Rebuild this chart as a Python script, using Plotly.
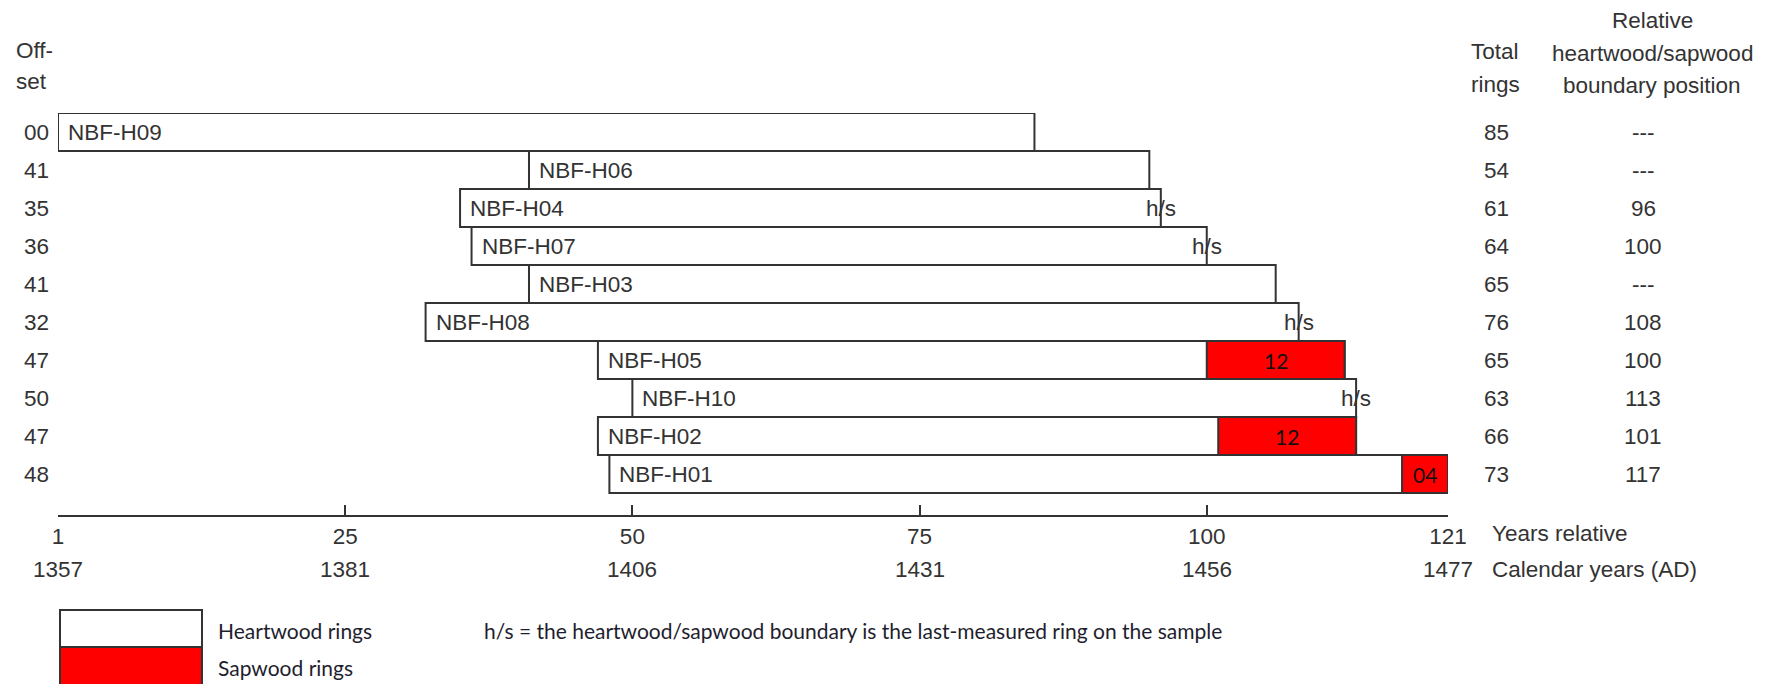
import plotly.graph_objects as go

# ---------------- data ----------------
samples = ["NBF-H09", "NBF-H06", "NBF-H04", "NBF-H07", "NBF-H03",
           "NBF-H08", "NBF-H05", "NBF-H10", "NBF-H02", "NBF-H01"]
offsets = [0, 41, 35, 36, 41, 32, 47, 50, 47, 48]
total_rings = [85, 54, 61, 64, 65, 76, 65, 63, 66, 73]
boundary_pos = [None, None, 96, 100, None, 108, 100, 113, 101, 117]
sapwood_rings = [0, 0, 0, 0, 0, 0, 12, 0, 12, 4]
hs_last_ring = [False, False, True, True, False, True, False, True, False, False]

rel_tick_vals = [0, 25, 50, 75, 100, 121]
rel_tick_text = ["1", "25", "50", "75", "100", "121"]
cal_tick_text = ["1357", "1381", "1406", "1431", "1456", "1477"]

# ---------------- geometry helpers ----------------
W, H = 1787, 684
ML, MR, MT, MB = 58, 339, 113, 169
PW = W - ML - MR
PH = H - MT - MB
ROW = 38.0


def px_x(px):
    return (px - ML) / PW


def px_y(py):
    return (H - MB - py) / PH


rows = list(range(len(samples)))
ends = [o + t for o, t in zip(offsets, total_rings)]

TXT = "#333333"
AR = "Liberation Sans, Arial, sans-serif"
CAL = "Lato, Calibri, sans-serif"
FS = 22.5

fig = go.Figure()

# heartwood (full span, white)
fig.add_trace(go.Bar(
    orientation="h", y=rows, x=total_rings, base=offsets, width=1,
    marker=dict(color="white", line=dict(color="#333333", width=2)),
    cliponaxis=False, hoverinfo="skip", showlegend=False))

# sapwood (red)
sap_rows = [r for r in rows if sapwood_rings[r] > 0]
fig.add_trace(go.Bar(
    orientation="h", y=sap_rows,
    x=[sapwood_rings[r] for r in sap_rows],
    base=[ends[r] - sapwood_rings[r] for r in sap_rows], width=1,
    marker=dict(color="#FF0000", line=dict(color="#333333", width=2)),
    cliponaxis=False, hoverinfo="skip", showlegend=False))

ann = []
for r in rows:
    # sample name inside bar
    ann.append(dict(x=offsets[r], y=r, xref="x", yref="y", text=samples[r],
                    xanchor="left", yanchor="middle", xshift=8, showarrow=False,
                    font=dict(family=AR, size=FS, color=TXT)))
    # offset column
    ann.append(dict(x=px_x(36), y=r, xref="paper", yref="y", text="%02d" % offsets[r],
                    xanchor="center", yanchor="middle", showarrow=False,
                    font=dict(family=AR, size=FS, color=TXT)))
    # total rings
    ann.append(dict(x=px_x(1496), y=r, xref="paper", yref="y", text=str(total_rings[r]),
                    xanchor="center", yanchor="middle", showarrow=False,
                    font=dict(family=AR, size=FS, color=TXT)))
    # boundary position
    bp = "---" if boundary_pos[r] is None else str(boundary_pos[r])
    ann.append(dict(x=px_x(1643), y=r, xref="paper", yref="y", text=bp,
                    xanchor="center", yanchor="middle", showarrow=False,
                    font=dict(family=AR, size=FS, color=TXT)))
    # h/s marker
    if hs_last_ring[r]:
        ann.append(dict(x=ends[r], y=r, xref="x", yref="y", text="h/s",
                        xanchor="center", yanchor="middle", showarrow=False,
                        font=dict(family=AR, size=FS, color=TXT)))
    # sapwood count
    if sapwood_rings[r] > 0:
        ann.append(dict(x=ends[r] - sapwood_rings[r] / 2, y=r, xref="x", yref="y",
                        text="%02d" % sapwood_rings[r], xanchor="center", yanchor="middle",
                        showarrow=False, font=dict(family=CAL, size=21, color="#111111")))

# calendar years row
for v, t in zip(rel_tick_vals, cal_tick_text):
    ann.append(dict(x=v, y=px_y(569), xref="x", yref="paper", text=t,
                    xanchor="center", yanchor="middle", showarrow=False,
                    font=dict(family=AR, size=FS, color=TXT)))

ann.append(dict(x=px_x(1490), y=px_y(533), xref="paper", yref="paper", text="Years relative",
                xanchor="left", yanchor="middle", showarrow=False,
                font=dict(family=AR, size=FS, color=TXT)))
ann.append(dict(x=px_x(1490), y=px_y(569), xref="paper", yref="paper", text="Calendar years (AD)",
                xanchor="left", yanchor="middle", showarrow=False,
                font=dict(family=AR, size=FS, color=TXT)))

# headers
hdrs = [("Off-", 14, 51, "left"), ("set", 14, 82, "left"),
        ("Total", 1495, 52, "center"), ("rings", 1495, 84, "center"),
        ("Relative", 1652, 21, "center"), ("heartwood/sapwood", 1652, 53, "center"),
        ("boundary position", 1652, 85, "center")]
for t, x, y, a in hdrs:
    ann.append(dict(x=px_x(x), y=px_y(y), xref="paper", yref="paper", text=t,
                    xanchor=a, yanchor="middle", showarrow=False,
                    font=dict(family=AR, size=FS, color=TXT)))

# legend texts
leg = [("Heartwood rings", 216, 630), ("Sapwood rings", 216, 667),
       ("h/s = the heartwood/sapwood boundary is the last-measured ring on the sample", 482, 630)]
for t, x, y in leg:
    ann.append(dict(x=px_x(x), y=px_y(y), xref="paper", yref="paper", text=t,
                    xanchor="left", yanchor="middle", showarrow=False,
                    font=dict(family=CAL, size=21, color="#1e1e2e")))

shapes = [
    dict(type="rect", xref="paper", yref="paper", x0=px_x(60), x1=px_x(202),
         y0=px_y(647), y1=px_y(610), fillcolor="white", line=dict(color="#333333", width=2)),
    dict(type="rect", xref="paper", yref="paper", x0=px_x(60), x1=px_x(202),
         y0=px_y(692), y1=px_y(647), fillcolor="#FF0000", line=dict(color="#333333", width=2)),
]

fig.update_layout(
    width=W, height=H, autosize=False,
    margin=dict(l=ML, r=MR, t=MT, b=MB, pad=0),
    paper_bgcolor="white", plot_bgcolor="white",
    barmode="overlay", showlegend=False,
    annotations=ann, shapes=shapes,
    xaxis=dict(range=[0, 121], tickvals=rel_tick_vals, ticktext=rel_tick_text,
               showline=True, linecolor="#333333", linewidth=2,
               ticks="inside", ticklen=10, tickwidth=2, tickcolor="#333333",
               showgrid=False, zeroline=False,
               tickfont=dict(family=AR, size=FS, color=TXT)),
    yaxis=dict(range=[-0.5 + PH / ROW, -0.5], visible=False, showgrid=False, zeroline=False),
)

fig.write_html("out.html", config={"displayModeBar": False},
               post_script="document.body.style.margin='0';document.body.style.overflow='hidden';")
